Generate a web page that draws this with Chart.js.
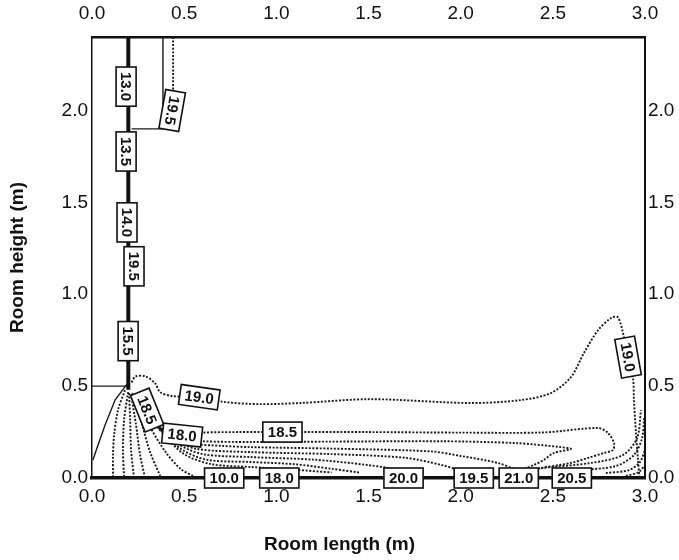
<!DOCTYPE html>
<html>
<head>
<meta charset="utf-8">
<title>Room temperature contours</title>
<script src="https://cdn.jsdelivr.net/npm/chart.js@4.4.0/dist/chart.umd.min.js"></script>
<style>
  html, body { margin: 0; padding: 0; background: #fff; }
</style>
</head>
<body>
<canvas id="contourChart" width="679" height="560"></canvas>
<script>
// Axis ticks (m)
const xTicks = [0, 0.5, 1.0, 1.5, 2.0, 2.5, 3.0];
const yTicks = [0, 0.5, 1.0, 1.5, 2.0];

// Solid lines: inlet jet wall, inlet edge, upper step
const inletWall = [[0.197, 2.4], [0.197, 0.48]];
const inletEdge = [[0, 0.5], [0.19, 0.5]];
const upperStep = [[0.385, 2.4], [0.385, 1.9], [0.215, 1.9]];
const fanSolid = [[0.19, 0.511], [0.125, 0.424], [0.071, 0.288], [0.027, 0.163], [0.005, 0.098]];

// Dashed isotherms (x, y in m)
const iso19Top = [[0.44, 2.4], [0.44, 2.08]];
const iso19 = [[0.215, 0.52], [0.235, 0.552], [0.288, 0.554], [0.342, 0.516], [0.37, 0.467], [0.435, 0.446],
  [0.582, 0.44], [0.723, 0.413], [0.913, 0.402], [1.13, 0.408], [1.511, 0.429], [2.054, 0.408], [2.326, 0.424],
  [2.489, 0.462], [2.598, 0.549], [2.668, 0.679], [2.745, 0.804], [2.815, 0.87], [2.853, 0.875], [2.886, 0.766],
  [2.908, 0.658], [2.935, 0.543], [2.94, 0.424], [2.951, 0.245], [2.962, 0.098], [2.97, 0]];
const iso185 = [[0.215, 0.46], [0.26, 0.42], [0.299, 0.37], [0.34, 0.3], [0.4, 0.255], [0.489, 0.234], [0.6, 0.247],
  [0.8, 0.25], [1.033, 0.25], [1.5, 0.25], [2.0, 0.247], [2.45, 0.248], [2.745, 0.272], [2.799, 0.245],
  [2.832, 0.19], [2.826, 0.152], [2.777, 0.136], [2.69, 0.109], [2.598, 0.082], [2.435, 0.054], [2.326, 0.033], [2.2, 0.02]];
const iso180 = [[0.225, 0.455], [0.29, 0.37], [0.36, 0.27], [0.45, 0.215], [0.6, 0.2], [0.86, 0.196], [1.3, 0.198],
  [1.9, 0.2], [2.3, 0.19], [2.543, 0.168], [2.598, 0.158], [2.505, 0.136], [2.451, 0.098], [2.397, 0.071], [2.326, 0.043], [2.25, 0.03]];
const iso175 = [[0.235, 0.45], [0.31, 0.34], [0.4, 0.24], [0.52, 0.19], [0.7, 0.175], [0.86, 0.168], [1.3, 0.16],
  [1.837, 0.145], [2.0, 0.12], [2.201, 0.082], [2.3, 0.045], [2.35, 0.03]];
const iso170 = [[0.245, 0.445], [0.33, 0.32], [0.43, 0.22], [0.56, 0.16], [0.86, 0.141], [1.3, 0.13], [1.7, 0.11], [1.9, 0.07], [2.0, 0.04]];
const iso165 = [[0.25, 0.44], [0.35, 0.3], [0.46, 0.19], [0.6, 0.13], [0.86, 0.114], [1.2, 0.1], [1.5, 0.07], [1.7, 0.04]];
const iso160 = [[0.26, 0.435], [0.36, 0.28], [0.48, 0.16], [0.62, 0.1], [0.86, 0.087], [1.1, 0.075], [1.3, 0.05], [1.45, 0.03]];
const iso155 = [[0.265, 0.43], [0.37, 0.26], [0.5, 0.13], [0.65, 0.075], [0.86, 0.06], [1.1, 0.045], [1.3, 0.03]];

// Fan of isotherms from the inlet corner down to the floor
const fan1 = [[0.179, 0.478], [0.141, 0.37], [0.12, 0.234], [0.114, 0.125], [0.114, 0]];
const fan2 = [[0.196, 0.467], [0.174, 0.315], [0.168, 0.152], [0.174, 0]];
const fan3 = [[0.201, 0.462], [0.207, 0.315], [0.212, 0.152], [0.228, 0]];
const fan4 = [[0.212, 0.457], [0.239, 0.288], [0.261, 0.125], [0.288, 0]];
const fan5 = [[0.223, 0.446], [0.272, 0.288], [0.315, 0.141], [0.37, 0.011]];
const fan6 = [[0.24, 0.44], [0.32, 0.27], [0.4, 0.14], [0.48, 0.05], [0.55, 0.01]];

// Right wall corner isotherms
const wall1 = [[2.435, 0.054], [2.707, 0.082], [2.88, 0.125], [2.957, 0.217], [2.978, 0.37]];
const wall2 = [[2.652, 0.043], [2.842, 0.065], [2.94, 0.125], [2.984, 0.217], [2.995, 0.326]];
const wall3 = [[2.788, 0.027], [2.913, 0.043], [2.973, 0.087], [3.0, 0.152]];
const wall4 = [[2.897, 0.011], [2.967, 0.033], [3.0, 0.071]];

const solidLines = [inletEdge, upperStep, fanSolid];
const dashedLines = [iso19Top, iso19, iso185, iso180, iso175, iso170, iso165, iso160, iso155,
  fan1, fan2, fan3, fan4, fan5, fan6, wall1, wall2, wall3, wall4];

// Isotherm labels: text, x, y, rotation (deg)
const contourLabels = [
  ['13.0', 0.185, 2.13, 90], ['19.5', 0.435, 2.0, 100], ['13.5', 0.185, 1.777, 90],
  ['14.0', 0.19, 1.391, 90], ['19.5', 0.228, 1.152, 90], ['15.5', 0.196, 0.745, 90],
  ['19.0', 0.582, 0.44, 8], ['18.5', 0.299, 0.37, 68], ['18.0', 0.489, 0.234, 6],
  ['18.5', 1.033, 0.25, 0], ['10.0', 0.717, 0, 0], ['18.0', 1.016, 0, 0],
  ['20.0', 1.69, 0, 0], ['19.5', 2.071, 0, 0], ['21.0', 2.315, 0, 0],
  ['20.5', 2.603, 0, 0], ['19.0', 2.908, 0.658, 80]
];

const FONT = '"Liberation Sans", Arial, Helvetica, sans-serif';
const toPts = arr => arr.map(([x, y]) => ({x: x, y: y}));

const datasets = [];
datasets.push({ data: toPts(inletWall), borderColor: '#111', borderWidth: 4, tension: 0 });
solidLines.forEach(l => datasets.push({ data: toPts(l), borderColor: '#1a1a1a', borderWidth: 1.4, tension: 0 }));
dashedLines.forEach(l => datasets.push({ data: toPts(l), borderColor: '#1a1a1a', borderWidth: 1.9, borderDash: [2, 1.6], tension: 0.3 }));

const labelPlugin = {
  id: 'contourLabels',
  afterDatasetsDraw(chart) {
    const ctx = chart.ctx;
    const xs = chart.scales.x, ys = chart.scales.y;
    ctx.save();
    ctx.font = 'bold 15px ' + FONT;
    contourLabels.forEach(([txt, vx, vy, ang]) => {
      const px = xs.getPixelForValue(vx), py = ys.getPixelForValue(vy);
      const w = ctx.measureText(txt).width + 10, h = 20;
      ctx.save();
      ctx.translate(px, py);
      ctx.rotate(ang * Math.PI / 180);
      ctx.fillStyle = '#fff';
      ctx.fillRect(-w / 2, -h / 2, w, h);
      ctx.lineWidth = 1.6;
      ctx.strokeStyle = '#111';
      ctx.strokeRect(-w / 2, -h / 2, w, h);
      ctx.fillStyle = '#111';
      ctx.textAlign = 'center';
      ctx.textBaseline = 'middle';
      ctx.fillText(txt, 0, 1);
      ctx.restore();
    });
    ctx.restore();
  },
  afterDraw(chart) {
    const ctx = chart.ctx;
    ctx.save();
    ctx.font = 'bold 19px ' + FONT;
    ctx.fillStyle = '#111';
    ctx.textAlign = 'center';
    ctx.textBaseline = 'middle';
    ctx.fillText('Room length (m)', chart.width / 2, 545);
    ctx.restore();
  }
};

function axis(position, ticksArr, min, max, size, pad, borderW) {
  const horiz = position === 'top' || position === 'bottom';
  return {
    type: 'linear', position: position, min: min, max: max,
    grid: { display: false, drawTicks: false },
    border: { display: true, color: '#111', width: borderW },
    afterBuildTicks: s => { s.ticks = ticksArr.map(v => ({value: v})); },
    afterFit: s => { if (horiz) s.height = size; else s.width = size; },
    ticks: {
      padding: pad, color: '#111', maxRotation: 0, autoSkip: false,
      font: { family: FONT, size: 19 },
      callback: v => Number(v).toFixed(1)
    }
  };
}

function createChart() {
  const ctx = document.getElementById('contourChart').getContext('2d');
  const yLeft = axis('left', yTicks, 0, 2.4, 92, 4, 1.5);
  yLeft.title = { display: true, text: 'Room height (m)', color: '#111',
    font: { family: FONT, size: 19, weight: 'bold' }, padding: { top: 6, bottom: 0 } };
  new Chart(ctx, {
    type: 'scatter',
    data: { datasets: datasets.map(d => Object.assign({ showLine: true, pointRadius: 0, fill: false }, d)) },
    options: {
      responsive: false,
      animation: false,
      layout: { padding: 0 },
      plugins: { legend: { display: false }, tooltip: { enabled: false } },
      scales: {
        x: axis('bottom', xTicks, 0, 3, 82, 7, 3.5),
        xTop: axis('top', xTicks, 0, 3, 37, 12, 2.5),
        y: yLeft,
        yRight: axis('right', yTicks, 0, 2.4, 34, 3, 2)
      }
    },
    plugins: [labelPlugin]
  });
}

window.onload = createChart;
</script>
</body>
</html>
